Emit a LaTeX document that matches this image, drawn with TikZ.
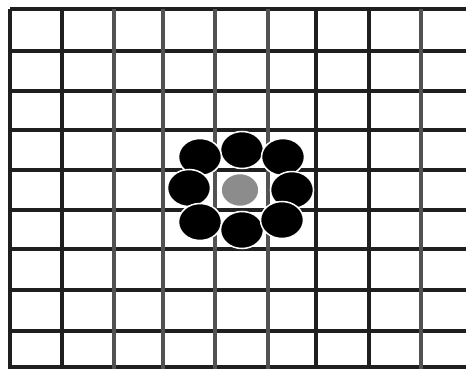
\documentclass[tikz,border=0pt]{standalone}
\usetikzlibrary{shapes.geometric}
\begin{document}
\begin{tikzpicture}[x=1pt,y=-1pt,
  gridline/.style={line width=3.6pt,draw=black!88},
  softline/.style={line width=3.6pt,draw=black!68},
  blackdot/.style={ellipse,draw=white,line width=1.5pt,fill=black,minimum width=43pt,minimum height=37pt,inner sep=0pt},
  graydot/.style={ellipse,draw=white,line width=1.5pt,fill=black!45,minimum width=38pt,minimum height=33pt,inner sep=0pt}]
\useasboundingbox[fill=white] (0,0) rectangle (466,369);
% horizontal lines
\foreach \y in {9,51,91,130,170,210,249,290,331,367}
  \draw[gridline] (10,\y) -- (466,\y);
% vertical lines
\foreach \x in {10,62,316,369}
  \draw[gridline] (\x,9) -- (\x,369);
\foreach \x in {114,163,215,268,421}
  \draw[softline] (\x,9) -- (\x,369);
% dots
\node[graydot] (c) at (240,190) {};
\node[blackdot] (n) at (242,150) {};
\node[blackdot] (nw) at (200,157) {};
\node[blackdot] (ne) at (283,157) {};
\node[blackdot] (w) at (189,188) {};
\node[blackdot] (e) at (292,190) {};
\node[blackdot] (sw) at (200,222) {};
\node[blackdot] (s) at (242,230) {};
\node[blackdot] (se) at (282,220) {};
\end{tikzpicture}
\end{document}
